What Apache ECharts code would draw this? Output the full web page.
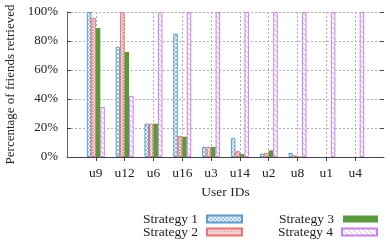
<!DOCTYPE html>
<html><head><meta charset="utf-8">
<script src="https://cdn.jsdelivr.net/npm/echarts@6/dist/echarts.min.js"></script>
<style>html,body{margin:0;padding:0;background:#fff}#c{width:390px;height:241px}</style>
</head><body><div id="c"></div>
<script>
const categories = ['u9','u12','u6','u16','u3','u14','u2','u8','u1','u4'];
const strategy1 = [100, 76, 23, 85, 7, 13, 2.3, 2.8, 0, 0];
const strategy2 = [96, 100, 23, 14.5, 7, 4, 2.8, 1.1, 0, 0];
const strategy3 = [89, 72.5, 23, 14, 7, 2, 4.6, 0.3, 0, 0];
const strategy4 = [34.5, 42, 100, 100, 100, 100, 100, 100, 100, 100];
const yTicks = [0, 20, 40, 60, 80, 100];
const seriesNames = ['Strategy 1','Strategy 2','Strategy 3','Strategy 4'];

function pattern(kind, color, size, lw) {
  const c = document.createElement('canvas');
  c.width = size; c.height = size;
  const g = c.getContext('2d');
  g.fillStyle = '#fff'; g.fillRect(0,0,size,size);
  g.strokeStyle = color; g.lineWidth = lw;
  g.beginPath();
  if (kind === 'cross' || kind === 'back') {
    g.moveTo(-1,-1); g.lineTo(size+1,size+1);
    g.moveTo(-1,size-1); g.lineTo(1,size+1);
    g.moveTo(size-1,-1); g.lineTo(size+1,1);
  }
  if (kind === 'cross') {
    g.moveTo(-1,size+1); g.lineTo(size+1,-1);
    g.moveTo(-1,1); g.lineTo(1,-1);
    g.moveTo(size-1,size+1); g.lineTo(size+1,size-1);
  }
  g.stroke();
  return {image: c, repeat: 'repeat'};
}

const pad = v => [null].concat(v.map(x => x === 0 ? '-' : x)).concat([null]);
const cats = [''].concat(categories).concat(['']);
const font = 'Liberation Serif';
const FS = 13.5;

const styles = [
  {color: pattern('cross', '#8ab8e4', 4, 0.9), borderColor: '#5b9bd5', borderWidth: 1},
  {color: pattern('cross', '#f29a9a', 3, 0.9), borderColor: '#ee7070', borderWidth: 1},
  {color: '#5b9a3c', borderColor: '#5b9a3c', borderWidth: 0},
  {color: pattern('back', '#dba4f2', 5, 0.9), borderColor: '#cc80ee', borderWidth: 1}
];
const data = [strategy1, strategy2, strategy3, strategy4];
const legendPos = [{right: 147, top: 212}, {right: 147, top: 225}, {right: 12, top: 212}, {right: 12, top: 225}];

const chart = echarts.init(document.getElementById('c'), null, {renderer: 'canvas'});
const firstLast = (i) => i > 0 && i < cats.length - 1;
chart.setOption({
  animation: false,
  textStyle: {fontFamily: font},
  grid: {left: 67, right: 6, top: 12, bottom: 84, outerBoundsMode: 'none', containLabel: false},
  legend: seriesNames.map((n, k) => Object.assign({
    data: [n], orient: 'horizontal', align: 'right', padding: 0,
    itemWidth: 35, itemHeight: 7, itemGap: 0, icon: 'rect', selectedMode: false,
    textStyle: {fontFamily: font, fontSize: FS, color: '#222', lineHeight: 14, padding: [0, 4, 0, 0]}
  }, legendPos[k])),
  xAxis: [{
    type: 'category', data: cats, boundaryGap: false,
    name: 'User IDs', nameLocation: 'middle', nameGap: 28,
    nameTextStyle: {fontFamily: font, fontSize: FS, color: '#222'},
    axisLine: {show: true, lineStyle: {color: '#444', width: 1}},
    axisTick: {show: false},
    axisLabel: {fontFamily: font, fontSize: FS, color: '#222', margin: 9, interval: 0},
    splitLine: {show: true, interval: (i) => firstLast(i), lineStyle: {color: '#b0b0b0', type: [2,2], width: 1}}
  }, {
    type: 'category', data: cats, boundaryGap: false, position: 'top',
    axisLine: {show: false},
    axisTick: {show: true, inside: true, length: 4, interval: (i) => firstLast(i), lineStyle: {color: '#444'}},
    axisLabel: {show: false}, splitLine: {show: false}
  }],
  yAxis: [{
    type: 'value', min: 0, max: 100, interval: 20,
    name: 'Percentage of friends retrieved', nameLocation: 'middle', nameGap: 47,
    nameTextStyle: {fontFamily: font, fontSize: 13, color: '#222'},
    axisLine: {show: true, lineStyle: {color: '#666'}},
    axisTick: {show: true, inside: true, length: 4, lineStyle: {color: '#444'}},
    axisLabel: {fontFamily: font, fontSize: 13, color: '#222', margin: 9, formatter: '{value}%'},
    splitLine: {show: true, lineStyle: {color: '#b0b0b0', type: [2,2], width: 1}}
  }, {
    type: 'value', min: 0, max: 100, interval: 20, position: 'right',
    axisLine: {show: false},
    axisTick: {show: true, inside: true, length: 4, lineStyle: {color: '#444'}},
    axisLabel: {show: false}, splitLine: {show: false}
  }],
  series: seriesNames.map((n, k) => ({
    name: n, type: 'bar', data: pad(data[k]), barWidth: 4.5, barGap: '0%',
    itemStyle: styles[k], emphasis: {disabled: true}
  }))
});
</script></body></html>
